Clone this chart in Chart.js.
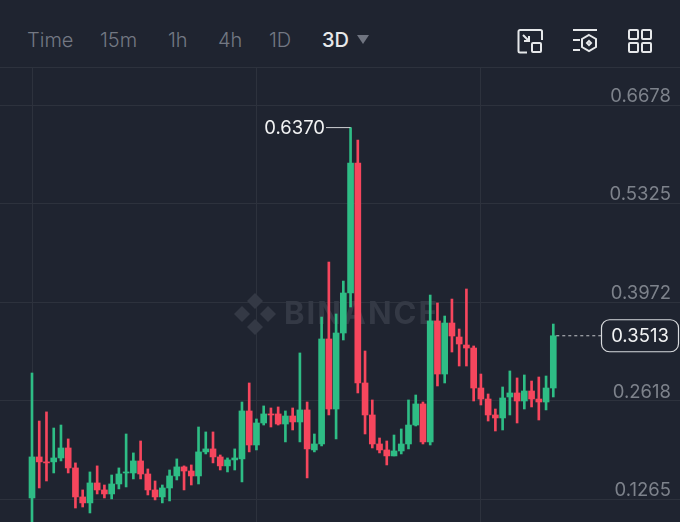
<!DOCTYPE html>
<html>
<head>
<meta charset="utf-8">
<title>3D candles</title>
<script src="https://cdn.jsdelivr.net/npm/chart.js@4"></script>
<style>
  html, body { margin: 0; padding: 0; background: #1f2430; }
  #page { position: relative; width: 680px; height: 522px; overflow: hidden; font-family: Inter, Roboto, sans-serif; }
  #toolbar { position: absolute; left: 0; top: 0; width: 680px; height: 67px; border-bottom: 1px solid #2d323d; }
  #toolbar span { position: absolute; top: 28px; font-size: 20px; line-height: 24px; color: #737883; font-weight: 300; }
  #toolbar span.on { color: #e6e8ea; font-weight: 500; }
  #toolbar svg { position: absolute; top: 27px; fill: none; stroke: #e6e8ea; stroke-width: 2; }
  #chart { position: absolute; left: 0; top: 68px; }
</style>
</head>
<body>
<div id="page">
  <div id="toolbar">
    <span style="left:27px">Time</span>
    <span style="left:100px">15m</span>
    <span style="left:168px">1h</span>
    <span style="left:218px">4h</span>
    <span style="left:269px">1D</span>
    <span class="on" style="left:322px">3D</span>
    <svg style="left:355px;top:33px;stroke:none;fill:#6f7480" width="16" height="12"><path d="M2 2h12l-6 9z"/></svg>
    <svg style="left:516px" width="28" height="28">
      <path d="M11 3H4a1.500 1.500 0 0 0-1.500 1.500V24A1.500 1.500 0 0 0 4 25.500h7M11 3h13.500a1.500 1.500 0 0 1 1.500 1.500V13"/>
      <rect x="16" y="16" width="9" height="9" rx="1"/>
      <path d="M7 8l6 6M13 9v5H8"/>
    </svg>
    <svg style="left:571px" width="28" height="28">
      <path d="M2 3h24M2 13h7M2 23h7"/>
      <path d="M18 8l7 4v8l-7 4-7-4v-8z"/>
      <path d="M18 14l2 2-2 2-2-2z"/>
    </svg>
    <svg style="left:626px" width="28" height="28">
      <rect x="3" y="3" width="9" height="9" rx="1"/><rect x="16" y="3" width="9" height="9" rx="1"/>
      <rect x="3" y="16" width="9" height="9" rx="1"/><rect x="16" y="16" width="9" height="9" rx="1"/>
    </svg>
  </div>
  <canvas id="chart" width="680" height="454"></canvas>
</div>
<script>
'use strict';

// -------------------- data --------------------
const opens = [
  0.1287, 0.1850, 0.1782, 0.1782, 0.1836, 0.1973, 0.1699, 0.1301, 0.1219, 0.1493,
  0.1397, 0.1342, 0.1479, 0.1630, 0.1630, 0.1795, 0.1616, 0.1397, 0.1301, 0.1424,
  0.1589, 0.1713, 0.1657, 0.1589, 0.1919, 0.1960, 0.1850, 0.1727, 0.1809, 0.1823,
  0.2481, 0.2014, 0.2316, 0.2440, 0.2440, 0.2302, 0.2412, 0.2330, 0.2495, 0.1946,
  0.2028, 0.3469, 0.2508, 0.3551, 0.4100, 0.5883, 0.2865, 0.2426, 0.2028, 0.1946,
  0.1864, 0.1932, 0.2028, 0.2288, 0.2577, 0.2056, 0.3716, 0.2988, 0.3688, 0.3496,
  0.3386, 0.3345, 0.2796, 0.2645, 0.2426, 0.2385, 0.2673, 0.2728, 0.2618, 0.2755,
  0.2645, 0.2604, 0.2796
];
const highs = [
  0.3002, 0.2343, 0.2468, 0.2247, 0.2288, 0.2097, 0.1768, 0.1397, 0.1644, 0.1727,
  0.1465, 0.1602, 0.1699, 0.2165, 0.1905, 0.2069, 0.1685, 0.1520, 0.1465, 0.1671,
  0.1823, 0.1727, 0.1740, 0.2261, 0.2193, 0.2193, 0.1877, 0.1836, 0.1960, 0.2604,
  0.2865, 0.2371, 0.2550, 0.2522, 0.2536, 0.2481, 0.2522, 0.3277, 0.2604, 0.2165,
  0.3770, 0.4525, 0.3812, 0.4264, 0.6370, 0.6199, 0.3304, 0.2632, 0.2110, 0.2069,
  0.2151, 0.2234, 0.2632, 0.2700, 0.2604, 0.4072, 0.3963, 0.3784, 0.4017, 0.3606,
  0.4155, 0.3373, 0.2988, 0.2714, 0.2508, 0.2810, 0.3030, 0.2934, 0.2975, 0.2892,
  0.2947, 0.2961, 0.3674
];
const lows = [
  0.0916, 0.1424, 0.1520, 0.1630, 0.1795, 0.1630, 0.1149, 0.1163, 0.1081, 0.1342,
  0.1287, 0.1274, 0.1411, 0.1438, 0.1548, 0.1548, 0.1328, 0.1260, 0.1219, 0.1246,
  0.1534, 0.1397, 0.1465, 0.1479, 0.1891, 0.1768, 0.1671, 0.1644, 0.1671, 0.1507,
  0.1919, 0.1946, 0.2288, 0.2261, 0.2288, 0.2056, 0.2220, 0.2056, 0.1562, 0.1919,
  0.2001, 0.2426, 0.2097, 0.3455, 0.3908, 0.2728, 0.2165, 0.1973, 0.1905, 0.1740,
  0.1864, 0.1891, 0.1960, 0.2275, 0.2028, 0.2014, 0.2824, 0.2865, 0.3290, 0.3098,
  0.3098, 0.2618, 0.2563, 0.2343, 0.2206, 0.2220, 0.2426, 0.2316, 0.2508, 0.2536,
  0.2357, 0.2495, 0.2673
];
const closes = [
  0.1850, 0.1782, 0.1768, 0.1836, 0.1973, 0.1699, 0.1301, 0.1219, 0.1493, 0.1397,
  0.1342, 0.1479, 0.1616, 0.1644, 0.1795, 0.1616, 0.1397, 0.1301, 0.1424, 0.1589,
  0.1713, 0.1657, 0.1589, 0.1919, 0.1960, 0.1850, 0.1727, 0.1809, 0.1836, 0.2481,
  0.2014, 0.2316, 0.2440, 0.2426, 0.2302, 0.2412, 0.2330, 0.2495, 0.1960, 0.2028,
  0.3469, 0.2508, 0.3551, 0.4100, 0.5883, 0.2865, 0.2426, 0.2028, 0.1946, 0.1864,
  0.1932, 0.2028, 0.2288, 0.2577, 0.2056, 0.3716, 0.2988, 0.3688, 0.3510, 0.3400,
  0.3345, 0.2796, 0.2645, 0.2426, 0.2385, 0.2659, 0.2728, 0.2618, 0.2755, 0.2645,
  0.2604, 0.2796, 0.3513
];
const tickValues = [0.1265, 0.2618, 0.3972, 0.5325, 0.6678];
const gridCandles = [0, 31, 62];
const highLabel = 0.6370;
const highIndex = 44;
const lastPrice = 0.3513;

// -------------------- colours --------------------
const GREEN = '#2ebd85';
const RED = '#f6465d';
const BG = '#1f2430';
const GRID = '#2d323d';
const candleColors = opens.map((o, i) => closes[i] >= o ? GREEN : RED);

// -------------------- watermark, high label, last price --------------------
const watermark = {
  id: 'watermark',
  beforeDatasetsDraw(chart) {
    const c = chart.ctx;
    const cy = 314 - 68;
    c.save();
    c.fillStyle = '#343945';
    [[255, cy - 13], [255 + 13, cy], [255, cy + 13], [255 - 13, cy]].forEach(p => {
      c.beginPath();
      c.moveTo(p[0], p[1] - 8);
      c.lineTo(p[0] + 8, p[1]);
      c.lineTo(p[0], p[1] + 8);
      c.lineTo(p[0] - 8, p[1]);
      c.fill();
    });
    c.font = '700 31px Inter, Roboto, sans-serif';
    c.letterSpacing = '2px';
    c.textBaseline = 'middle';
    c.textAlign = 'left';
    c.fillText('BINANCE', 284, cy + 1);
    c.restore();
  }
};

const labels = {
  id: 'labels',
  afterDatasetsDraw(chart) {
    const c = chart.ctx;
    const xs = chart.scales.x;
    const ys = chart.scales.y;
    c.save();
    c.font = '400 18.500px Inter, Roboto, sans-serif';
    c.textBaseline = 'middle';

    // highest price
    const hx = xs.getPixelForValue(highIndex);
    const hy = ys.getPixelForValue(highLabel);
    c.strokeStyle = '#d0d2d6';
    c.lineWidth = 1;
    c.beginPath();
    c.moveTo(326, hy);
    c.lineTo(hx, hy);
    c.stroke();
    c.fillStyle = '#f2f3f4';
    c.textAlign = 'right';
    c.fillText(highLabel.toFixed(4), 325, hy + 1);

    // last price
    const ly = ys.getPixelForValue(lastPrice);
    c.setLineDash([3, 3]);
    c.strokeStyle = '#c4c6ca';
    c.beginPath();
    c.moveTo(xs.getPixelForValue(opens.length - 1) + 3, ly);
    c.lineTo(601, ly);
    c.stroke();
    c.setLineDash([]);
    c.fillStyle = BG;
    c.strokeStyle = '#d8dadd';
    c.lineWidth = 1.2;
    c.beginPath();
    c.roundRect(601.500, ly - 16, 77, 32, 8);
    c.fill();
    c.stroke();
    c.fillStyle = '#f2f3f4';
    c.textAlign = 'center';
    c.fillText(lastPrice.toFixed(4), 640, ly + 1);
    c.restore();
  }
};

// -------------------- Chart.js --------------------
const wicks = opens.map((o, i) => ({ x: i, y: [lows[i], highs[i]] }));
const bodies = opens.map((o, i) => ({ x: i, y: [o, closes[i]] }));

// the axes must not reserve room for their labels: the plot fills the canvas
function dropPadding(axis) {
  axis.paddingTop = 0;
  axis.paddingBottom = 0;
  axis.paddingLeft = 0;
  axis.paddingRight = 0;
}

new Chart(document.getElementById('chart'), {
  type: 'bar',
  data: {
    datasets: [
      { data: wicks, backgroundColor: candleColors, barThickness: 2, grouped: false, order: 2 },
      { data: bodies, backgroundColor: candleColors, barThickness: 6, grouped: false, order: 1 }
    ]
  },
  options: {
    responsive: false,
    animation: false,
    devicePixelRatio: 1,
    layout: { padding: 0 },
    plugins: { legend: { display: false }, tooltip: { enabled: false } },
    scales: {
      x: {
        type: 'linear',
        offset: false,
        bounds: 'data',
        min: -4.42,
        max: 89.5,
        afterBuildTicks(axis) {
          axis.ticks = gridCandles.map(v => ({ value: v }));
        },
        afterFit: dropPadding,
        grid: { color: GRID, drawTicks: false, offset: false },
        border: { display: false },
        ticks: { display: false }
      },
      y: {
        position: 'right',
        bounds: 'data',
        min: 0.0957,
        max: 0.7188,
        afterBuildTicks(axis) {
          axis.ticks = tickValues.map(v => ({ value: v }));
        },
        afterFit(axis) {
          dropPadding(axis);
          axis.width = 0;
        },
        grid: { color: GRID, drawTicks: false },
        border: { display: false },
        ticks: {
          mirror: true,
          padding: -9,
          labelOffset: -9,
          color: '#7d828b',
          font: { family: 'Inter, Roboto, sans-serif', size: 18.5 },
          callback: v => v.toFixed(4)
        }
      }
    }
  },
  plugins: [watermark, labels]
});
</script>
</body>
</html>
